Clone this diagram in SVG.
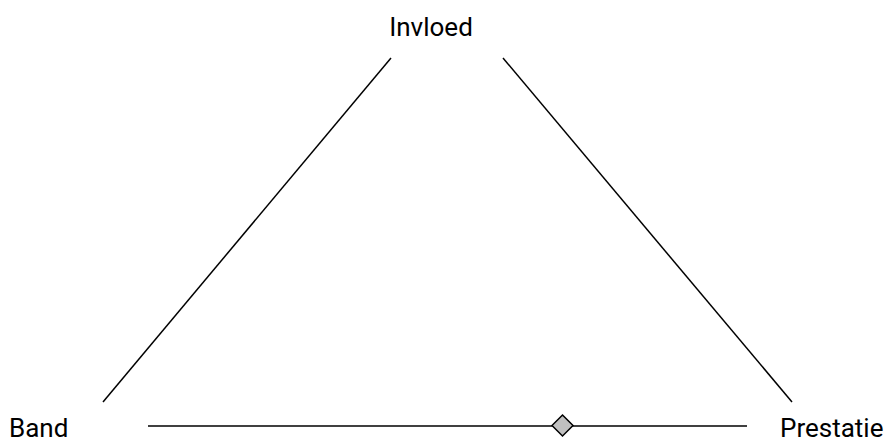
<svg xmlns="http://www.w3.org/2000/svg" width="887" height="439" viewBox="0 0 887 439">
<style>
text{font-family:Roboto,"Liberation Sans",sans-serif;font-size:26px;fill:#000}
.e{stroke:#000;stroke-width:1.5;fill:none}
</style>
<rect width="887" height="439" fill="#fff"/>
<g id="connectors">
<line class="e" x1="391" y1="58" x2="103" y2="402"/>
<line class="e" x1="503" y1="58" x2="792" y2="402"/>
<line class="e" x1="148" y1="426" x2="747" y2="426"/>
<path d="M562.5 415 L573 425.5 L562.5 436 L552 425.5 Z" fill="#c0c0c0" stroke="#000" stroke-width="1.5"/>
</g>
<g id="invloed"><text x="431" y="36" text-anchor="middle">Invloed</text></g>
<g id="band"><text x="9" y="437">Band</text></g>
<g id="prestatie"><text x="780" y="437">Prestatie</text></g>
</svg>
